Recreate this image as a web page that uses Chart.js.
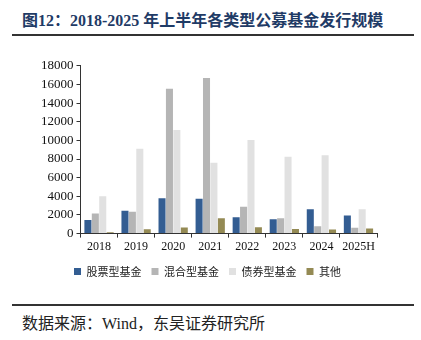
<!DOCTYPE html>
<html>
<head>
<meta charset="utf-8">
<script src="https://cdn.jsdelivr.net/npm/chart.js@4/dist/chart.umd.min.js"></script>
<style>
  body { margin: 0; background: #fff; width: 421px; height: 340px; position: relative; overflow: hidden; }
  #title { position: absolute; left: 22px; top: 7px; font: bold 16px "Liberation Serif", "Noto Sans CJK SC", serif; color: #1f3b66; white-space: nowrap; }
  .rule { position: absolute; left: 12px; width: 402px; height: 2px; background: #333; }
  #box { position: absolute; left: 0; top: 55px; width: 421px; height: 232px; }
  #source { position: absolute; left: 22px; top: 310px; font: 16px "Liberation Serif", "Noto Sans CJK SC", serif; color: #222; white-space: nowrap; }
</style>
</head>
<body>
<div id="title">图12：2018-2025 年上半年各类型公募基金发行规模</div>
<div class="rule" style="top:34px"></div>
<div id="box"><canvas id="fund-chart"></canvas></div>
<div class="rule" style="top:304px"></div>
<div id="source">数据来源：Wind，东吴证券研究所</div>
<script>
  // 发行规模（亿份）
  const years = ['2018', '2019', '2020', '2021', '2022', '2023', '2024', '2025H'];
  const stockFund = [1450, 2450, 3800, 3750, 1750, 1530, 2600, 1950];
  const mixedFund = [2150, 2350, 15550, 16700, 2870, 1640, 800, 620];
  const bondFund = [4000, 9100, 11100, 7600, 10050, 8250, 8400, 2600];
  const otherFund = [150, 480, 650, 1650, 690, 500, 430, 540];

  const seriesNames = ['股票型基金', '混合型基金', '债券型基金', '其他'];
  const seriesColors = ['#335d92', '#b5b5b5', '#e1e1e1', '#948a54'];
  const seriesData = [stockFund, mixedFund, bondFund, otherFund];

  const serif = '"Liberation Serif", "Noto Sans CJK SC", serif';

  new Chart(document.getElementById('fund-chart'), {
    type: 'bar',
    data: {
      labels: years,
      datasets: seriesData.map((values, i) => ({
        label: seriesNames[i],
        data: values,
        backgroundColor: seriesColors[i],
        borderWidth: 0,
        barPercentage: 0.95,
        categoryPercentage: 0.8,
      })),
    },
    options: {
      responsive: true,
      maintainAspectRatio: false,
      animation: false,
      layout: { padding: { left: 38, right: 44, top: 4, bottom: 0 } },
      plugins: {
        tooltip: { enabled: false },
        legend: {
          position: 'bottom',
          labels: {
            boxWidth: 7,
            boxHeight: 7,
            padding: 10,
            color: '#222',
            font: { family: '"Noto Sans CJK SC", serif', size: 11 },
          },
        },
      },
      scales: {
        x: {
          grid: { drawOnChartArea: false, tickLength: 4, color: '#333' },
          border: { color: '#333', width: 1 },
          ticks: { color: '#111', font: { family: serif, size: 12 }, padding: 2, maxRotation: 0, minRotation: 0, autoSkip: false },
        },
        y: {
          min: 0,
          max: 18000,
          ticks: {
            stepSize: 2000,
            autoSkip: false,
            color: '#111',
            font: { family: serif, size: 13 },
            padding: 3,
            callback: v => String(v),
          },
          grid: { drawOnChartArea: false, tickLength: 4, color: '#333' },
          border: { color: '#333', width: 1 },
        },
      },
    },
  });
</script>
</body>
</html>
